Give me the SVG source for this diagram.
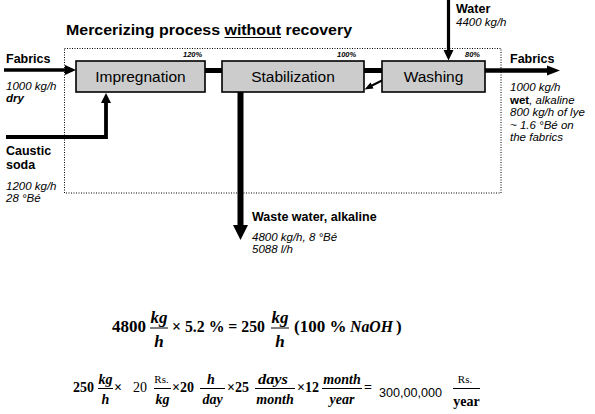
<svg xmlns="http://www.w3.org/2000/svg" width="595" height="414" viewBox="0 0 595 414">
<style>
  .bg{fill:#ffffff}
  .box{fill:#cccccc;stroke:#000;stroke-width:1.6}
  .frame{fill:none;stroke:#000;stroke-width:1;stroke-dasharray:1 1.5}
  .ln{fill:none;stroke:#000;stroke-linecap:butt}
  .hd{fill:#000;stroke:none}
  .boxt{font-family:"Liberation Sans",Arial,sans-serif;font-size:15.5px;fill:#000;text-anchor:middle}
  .lb{font-family:"Liberation Sans",Arial,sans-serif;font-size:12.5px;font-weight:bold;fill:#000}
  .li{font-family:"Liberation Sans",Arial,sans-serif;font-size:11.5px;font-style:italic;fill:#000}
  .pc{font-family:"Liberation Sans",Arial,sans-serif;font-size:7.5px;font-style:italic;font-weight:bold;fill:#000}
  .title{font-family:"Liberation Sans",Arial,sans-serif;font-size:15px;font-weight:bold;fill:#000}
  .m1{font-family:"Liberation Serif","Times New Roman",serif;font-size:17px;font-weight:bold;fill:#000}
  .m2{font-family:"Liberation Serif","Times New Roman",serif;font-size:14px;font-weight:bold;fill:#000}
  .m2r{font-family:"Liberation Serif","Times New Roman",serif;font-size:14px;font-weight:normal;fill:#000}
  .rs{font-family:"Liberation Serif","Times New Roman",serif;font-size:11px;font-weight:normal;fill:#000;text-anchor:middle}
  .it{font-style:italic}
  .c{text-anchor:middle}
  .fr{stroke:#000;stroke-width:1}
</style>
<rect class="bg" x="0" y="0" width="595" height="414"/>

<g id="title">
  <text class="title" x="66" y="35" textLength="286" lengthAdjust="spacingAndGlyphs">Mercerizing process without recovery</text>
  <line class="fr" x1="224.5" y1="37.5" x2="281" y2="37.5" stroke-width="1.3"/>
</g>

<rect class="frame" x="64.5" y="48.5" width="436.5" height="144.5"/>

<g id="connectors">
  <!-- Fabrics in -->
  <line class="ln" x1="4" y1="70" x2="67" y2="70" stroke-width="3.5"/>
  <polygon class="hd" points="76,70 65,65 65,75"/>
  <!-- Impregnation to Stabilization -->
  <line class="ln" x1="205" y1="70.5" x2="222" y2="70.5" stroke-width="5"/>
  <!-- Stabilization to Washing -->
  <line class="ln" x1="364" y1="70.5" x2="382" y2="70.5" stroke-width="5"/>
  <!-- Washing to Fabrics out -->
  <line class="ln" x1="485" y1="70.5" x2="549" y2="70.5" stroke-width="4.5"/>
  <polygon class="hd" points="560,70.5 547,65.5 547,75.5"/>
  <!-- Water in -->
  <line class="ln" x1="448.5" y1="0" x2="448.5" y2="52" stroke-width="3.2"/>
  <polygon class="hd" points="448.5,60.5 443.5,50 453.5,50"/>
  <!-- Caustic soda in -->
  <polyline class="ln" points="6,137 106,137 106,101" stroke-width="3.8" stroke-linejoin="miter"/>
  <polygon class="hd" points="106,93 101,103 111,103"/>
  <!-- Waste water out -->
  <line class="ln" x1="240.5" y1="92" x2="240.5" y2="227" stroke-width="6"/>
  <polygon class="hd" points="240.5,240 233,225 248,225"/>
  <!-- Washing back to Stabilization -->
  <line class="ln" x1="382" y1="80.5" x2="370" y2="86.5" stroke-width="2"/>
  <polygon class="hd" points="364.5,89.5 370.5,82.5 373.5,88.5"/>
</g>

<g id="impregnation">
  <rect class="box" x="76" y="61" width="129" height="31"/>
  <text class="boxt" x="140.5" y="81.5">Impregnation</text>
  <text class="pc" x="183" y="57">120%</text>
</g>
<g id="stabilization">
  <rect class="box" x="222" y="61" width="142" height="31"/>
  <text class="boxt" x="293" y="81.5">Stabilization</text>
  <text class="pc" x="337" y="57">100%</text>
</g>
<g id="washing">
  <rect class="box" x="382" y="61" width="103" height="31"/>
  <text class="boxt" x="433.5" y="81.5">Washing</text>
  <text class="pc" x="465" y="57">80%</text>
</g>

<g id="fabrics-in">
  <text class="lb" x="6" y="63">Fabrics</text>
  <text class="li" x="6" y="90">1000 kg/h</text>
  <text class="li" x="6" y="102" font-weight="bold">dry</text>
</g>
<g id="caustic-soda">
  <text class="lb" x="6" y="155">Caustic</text>
  <text class="lb" x="6" y="169">soda</text>
  <text class="li" x="6" y="190">1200 kg/h</text>
  <text class="li" x="6" y="202">28 °Bé</text>
</g>
<g id="water">
  <text class="lb" x="456" y="13">Water</text>
  <text class="li" x="456" y="26">4400 kg/h</text>
</g>
<g id="fabrics-out">
  <text class="lb" x="510" y="63">Fabrics</text>
  <text class="li" x="510" y="91">1000 kg/h</text>
  <text class="li" x="510" y="103.5"><tspan font-weight="bold" font-style="normal">wet</tspan>, alkaline</text>
  <text class="li" x="510" y="116">800 kg/h of lye</text>
  <text class="li" x="510" y="128.5">~ 1.6 °Bé on</text>
  <text class="li" x="510" y="141">the fabrics</text>
</g>
<g id="waste-water">
  <text class="lb" x="252" y="221">Waste water, alkaline</text>
  <text class="li" x="252" y="241">4800 kg/h, 8 °Bé</text>
  <text class="li" x="252" y="253">5088 l/h</text>
</g>

<g id="equation1">
  <text class="m1" x="112" y="332">4800</text>
  <text class="m1 it c" x="159" y="323">kg</text>
  <line class="fr" x1="150" y1="328" x2="168" y2="328"/>
  <text class="m1 it c" x="159" y="347">h</text>
  <text class="m1" x="172" y="332" textLength="93" lengthAdjust="spacingAndGlyphs">× 5.2 % = 250</text>
  <text class="m1 it c" x="280" y="323">kg</text>
  <line class="fr" x1="271" y1="328" x2="289" y2="328"/>
  <text class="m1 it c" x="280" y="347">h</text>
  <text class="m1" x="294" y="332">(100 %</text>
  <text class="m1 it" x="350" y="332" textLength="43" lengthAdjust="spacingAndGlyphs">NaOH</text>
  <text class="m1" x="396" y="332">)</text>
</g>

<g id="equation2">
  <text class="m2" x="73" y="392">250</text>
  <text class="m2 it c" x="105.5" y="384">kg</text>
  <line class="fr" x1="98" y1="388.5" x2="113" y2="388.5"/>
  <text class="m2 it c" x="105.5" y="404">h</text>
  <text class="m2" x="114" y="392">×</text>
  <text class="m2r" x="133" y="392">20</text>
  <text class="rs" x="161.5" y="383">Rs.</text>
  <line class="fr" x1="154" y1="388.5" x2="171" y2="388.5"/>
  <text class="m2 it c" x="162.5" y="404">kg</text>
  <text class="m2" x="172" y="392">×20</text>
  <text class="m2 it c" x="211" y="384">h</text>
  <line class="fr" x1="200" y1="388.5" x2="225" y2="388.5"/>
  <text class="m2 it c" x="212.5" y="404">day</text>
  <text class="m2" x="227" y="392">×25</text>
  <text class="m2 it c" x="273" y="384" textLength="30" lengthAdjust="spacingAndGlyphs">days</text>
  <line class="fr" x1="255" y1="388.5" x2="295" y2="388.5"/>
  <text class="m2 it c" x="275" y="404">month</text>
  <text class="m2" x="297" y="392">×12</text>
  <text class="m2 it c" x="342" y="384">month</text>
  <line class="fr" x1="322" y1="388.5" x2="362" y2="388.5"/>
  <text class="m2 it c" x="342" y="404">year</text>
  <text class="m2" x="364" y="392">=</text>
  <text x="379" y="396.5" font-family="Liberation Sans, Arial, sans-serif" font-size="12" textLength="63" lengthAdjust="spacingAndGlyphs">300,00,000</text>
  <text class="rs" x="465" y="383">Rs.</text>
  <line class="fr" x1="453" y1="388.5" x2="480" y2="388.5"/>
  <text class="m2 c" x="466.5" y="406">year</text>
</g>
</svg>
